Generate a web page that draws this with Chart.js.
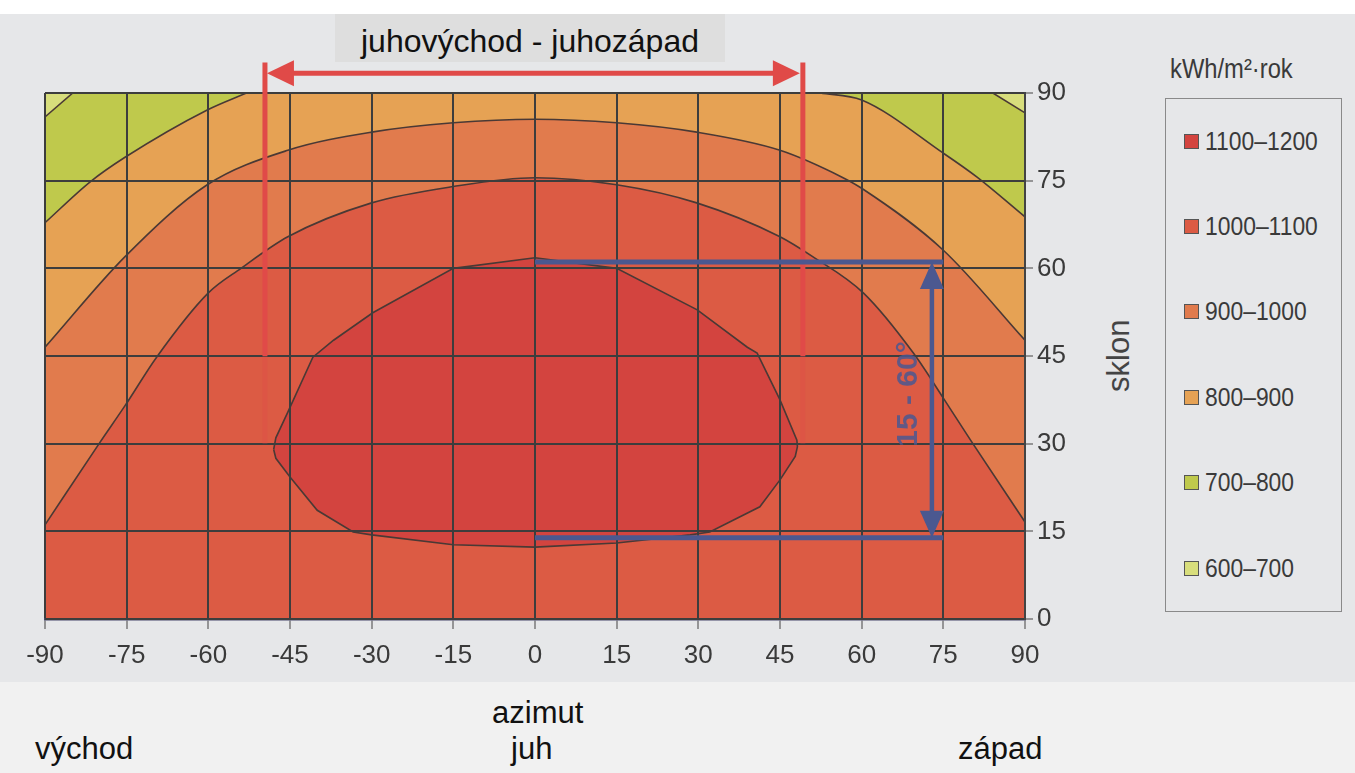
<!DOCTYPE html>
<html lang="sk">
<head>
<meta charset="UTF-8">
<title>Ročná energia podľa azimutu a sklonu</title>
<style>
  body { margin: 0; width: 1355px; height: 773px; position: relative; overflow: hidden; background: #fff;
         font-family: "Liberation Sans", Arial, sans-serif; }
  .scan { position: absolute; left: 0; top: 14px; width: 1355px; height: 668px; background: #e6e7e9; }
  .band { position: absolute; left: 0; top: 682px; width: 1355px; height: 91px; background: #f1f1f1; }
  .topbox { position: absolute; left: 335px; top: 14px; width: 390px; height: 48px; background: #dedede; }
  .txt { position: absolute; color: #111; white-space: nowrap; line-height: 1; }
  .narrow { font-family: "Liberation Sans Narrow", "Arial Narrow", "Liberation Sans", sans-serif; color: #3a3a3a; }
  .squeeze { display: inline-block; transform: scaleX(0.88); transform-origin: left center; }
  #legend { position: absolute; left: 1165px; top: 98px; width: 175px; height: 512px; border: 1px solid #8a8a8a; }
  .item { position: absolute; left: 18px; height: 30px; display: flex; align-items: center; font-size: 26px; }
  .sw { width: 13px; height: 13px; border: 1.5px solid #555; margin-right: 6px; }
  canvas { position: absolute; left: 0; top: 0; }
</style>
</head>
<body>
<div class="scan"></div>
<div class="band"></div>
<div class="topbox"></div>
<div class="txt" style="left:335px;width:390px;text-align:center;top:25px;font-size:32px;">juhovýchod - juhozápad</div>
<div class="txt narrow" style="left:1170px;top:56px;font-size:27px;"><span class="squeeze">kWh/m²·rok</span></div>
<div id="legend"></div>
<div class="txt" style="left:1103px;top:392px;font-size:31px;color:#444;transform:rotate(-90deg);transform-origin:left top;">sklon</div>
<div class="txt" style="left:492px;top:697px;font-size:31px;">azimut</div>
<div class="txt" style="left:35px;top:733px;font-size:31px;">východ</div>
<div class="txt" style="left:511px;top:733px;font-size:31px;">juh</div>
<div class="txt" style="left:958px;top:733px;font-size:31px;">západ</div>
<canvas id="graf" width="1355" height="773"></canvas>

<script src="https://cdn.jsdelivr.net/npm/chart.js@4.4.1/dist/chart.umd.min.js"></script>
<script>
  // legenda - kWh/m2 za rok
  const legendRanges = ['1100–1200', '1000–1100', '900–1000', '800–900', '700–800', '600–700'];
  const rangeColors = ['#d3443f', '#dc5b44', '#e17b4d', '#e6a254', '#bfc94c', '#d8de7c'];

  const azimutTicks = [-90, -75, -60, -45, -30, -15, 0, 15, 30, 45, 60, 75, 90];
  const sklonTicks = [0, 15, 30, 45, 60, 75, 90];

  // izolínie [azimut, sklon]
  const line900 = [[-90, 16.1], [-80, 30.1], [-75.3, 36.5], [-69.5, 44.8], [-60, 55.8], [-54, 60], [-45.4, 65.4],
    [-30, 71.2], [-15, 74], [0, 75.5], [15, 74.3], [29.7, 71.2], [45, 65.4], [51, 62], [60.3, 55.8],
    [69.5, 45.5], [75, 37.8], [80, 30.6], [90, 16.6]];
  const line800 = [[-90, 46.5], [-75.3, 62], [-60.2, 74.3], [-45.4, 80.2], [-30, 83.3], [-15, 84.9], [0, 85.5],
    [15, 84.9], [29.7, 83.3], [45, 80.2], [56.4, 75.6], [60, 73.7], [75, 63.1], [90, 47.7]];
  const line700L = [[-90, 67.8], [-81.7, 74.8], [-75.3, 79], [-60.2, 87.1], [-53, 90]];
  const line700R = [[52.4, 90], [60, 88.8], [75, 79.7], [81.2, 75.6], [90, 68.8]];
  const line600L = [[-90, 85.9], [-84.9, 90]];
  const line600R = [[84.1, 90], [90, 86.6]];
  const blobUpper = [[-48, 29], [-47.6, 31], [-45.4, 35.4], [-40.8, 44.8], [-37, 47.7], [-29.8, 52.4], [-15, 60],
    [0, 61.8], [15, 60], [29.8, 52.9], [39, 46.5], [40.8, 45.5], [45, 37.5], [48.1, 30.6], [48.2, 29.5]];
  const blobLower = [[-48, 29], [-47.6, 27.5], [-45, 24.3], [-40, 18.6], [-33.4, 14.9], [-30, 14.4], [-15, 12.7],
    [0, 12.3], [15, 13], [28.5, 14.4], [32.1, 14.9], [41.3, 19.2], [45, 23.8], [47.8, 27.8], [48.2, 29.5]];

  // vyznačenie
  const juhSpan = [-49.6, 49.2];     // juhovýchod - juhozápad
  const sklonSpan = [13.9, 61.1];    // 15 - 60°
  const bracketAz = [0, 75];
  const arrowAz = 72.9;

  const narrow = '"Liberation Sans Narrow", "Arial Narrow", "Liberation Sans", sans-serif';
  const lineCol = '#4a3935';

  // legenda do html
  const leg = document.getElementById('legend');
  legendRanges.forEach((r, i) => {
    const d = document.createElement('div');
    d.className = 'item narrow';
    d.style.top = (27 + i * 85.4) + 'px';
    d.innerHTML = '<span class="sw" style="background:' + rangeColors[i] + '"></span><span class="squeeze">' + r + '</span>';
    leg.appendChild(d);
  });

  const pts = arr => arr.map(p => ({x: p[0], y: p[1]}));

  function contour(arr, color, mode) {
    return {
      data: pts(arr), borderColor: lineCol, borderWidth: 1.6, pointRadius: 0,
      backgroundColor: color, fill: 'end', cubicInterpolationMode: mode || 'default', tension: mode ? 0.4 : 0
    };
  }

  const datasets = [
    {data: pts(blobUpper.concat(blobLower.slice().reverse())), borderColor: lineCol, borderWidth: 1.6,
      pointRadius: 0, fill: false},
    {data: pts(blobUpper), borderWidth: 0, pointRadius: 0, backgroundColor: rangeColors[0], fill: '+1'},
    {data: pts(blobLower), borderWidth: 0, pointRadius: 0, fill: false},
    contour(line600L, rangeColors[5]),
    contour(line600R, rangeColors[5]),
    contour(line700L, rangeColors[4], 'monotone'),
    contour(line700R, rangeColors[4], 'monotone'),
    contour(line800, rangeColors[3], 'monotone'),
    contour(line900, rangeColors[2], 'monotone')
  ];

  const areaBg = {
    id: 'areaBg',
    beforeDraw(chart) {
      const a = chart.chartArea, ctx = chart.ctx;
      ctx.save();
      ctx.fillStyle = rangeColors[1];
      ctx.fillRect(a.left, a.top, a.right - a.left, a.bottom - a.top);
      ctx.restore();
    }
  };

  function head(ctx, tx, ty, dx, dy, len, half) {
    ctx.beginPath();
    ctx.moveTo(tx, ty);
    ctx.lineTo(tx - dx * len - dy * half, ty - dy * len + dx * half);
    ctx.lineTo(tx - dx * len + dy * half, ty - dy * len - dx * half);
    ctx.closePath();
    ctx.fill();
  }

  const marks = {
    id: 'marks',
    afterDraw(chart) {
      const {ctx, scales: {x, y}} = chart;
      ctx.save();
      // cervena sipka juhovychod - juhozapad
      const red = '#e04a48';
      ctx.strokeStyle = red; ctx.fillStyle = red; ctx.lineWidth = 5;
      const xl = x.getPixelForValue(juhSpan[0]), xr = x.getPixelForValue(juhSpan[1]);
      const ya = y.getPixelForValue(93.4);
      juhSpan.forEach(v => {
        const px = x.getPixelForValue(v);
        ctx.globalAlpha = 1;
        ctx.beginPath(); ctx.moveTo(px, y.getPixelForValue(95.2)); ctx.lineTo(px, y.getPixelForValue(45)); ctx.stroke();
        ctx.globalAlpha = 0.3;
        ctx.beginPath(); ctx.moveTo(px, y.getPixelForValue(45)); ctx.lineTo(px, y.getPixelForValue(30)); ctx.stroke();
      });
      ctx.globalAlpha = 1;
      ctx.beginPath(); ctx.moveTo(xl + 20, ya); ctx.lineTo(xr - 20, ya); ctx.stroke();
      head(ctx, xl + 2, ya, -1, 0, 27, 13);
      head(ctx, xr - 3, ya, 1, 0, 27, 13);

      // modra zatvorka sklonu
      const blue = '#4b5890';
      ctx.strokeStyle = blue; ctx.fillStyle = blue; ctx.lineWidth = 5;
      const b0 = x.getPixelForValue(bracketAz[0]), b1 = x.getPixelForValue(bracketAz[1]);
      sklonSpan.forEach(v => {
        const py = y.getPixelForValue(v);
        ctx.beginPath(); ctx.moveTo(b0, py); ctx.lineTo(b1, py); ctx.stroke();
      });
      const ax = x.getPixelForValue(arrowAz);
      const yt = y.getPixelForValue(sklonSpan[1]), yb = y.getPixelForValue(sklonSpan[0]);
      ctx.lineWidth = 4.5;
      ctx.beginPath(); ctx.moveTo(ax, yt + 20); ctx.lineTo(ax, yb - 20); ctx.stroke();
      head(ctx, ax, yt, 0, -1, 27, 12);
      head(ctx, ax, yb, 0, 1, 27, 12);

      ctx.translate(x.getPixelForValue(68.6), y.getPixelForValue(38.5));
      ctx.rotate(-Math.PI / 2);
      ctx.globalAlpha = 0.85;
      ctx.font = 'bold 30px ' + narrow;
      ctx.textAlign = 'center'; ctx.textBaseline = 'middle';
      ctx.fillText('15 - 60°', 0, 0);
      ctx.restore();
    }
  };

  const tickFont = {family: narrow, size: 26};

  new Chart(document.getElementById('graf'), {
    type: 'line',
    data: {datasets: datasets},
    plugins: [areaBg, marks],
    options: {
      responsive: false,
      animation: false,
      layout: {padding: {left: 45, top: 93, right: 260, bottom: 94}},
      plugins: {legend: {display: false}, tooltip: {enabled: false}, filler: {drawTime: 'beforeDatasetsDraw'}},
      scales: {
        x: {
          type: 'linear', min: -90, max: 90,
          afterBuildTicks: s => { s.ticks = azimutTicks.map(v => ({value: v})); },
          afterFit: s => { s.height = 60; },
          ticks: {color: '#3a3a3a', font: tickFont, padding: 11, maxRotation: 0, autoSkip: false},
          grid: {color: '#3d3d3d', lineWidth: 2, z: 1, tickLength: 10, tickColor: '#7a7a7a', tickWidth: 1.5},
          border: {display: true, color: '#46466a', width: 2.5, z: 1}
        },
        y: {
          type: 'linear', position: 'right', min: 0, max: 90,
          afterBuildTicks: s => { s.ticks = sklonTicks.map(v => ({value: v})); },
          afterFit: s => { s.width = 70; },
          ticks: {color: '#3a3a3a', font: tickFont, padding: 4},
          grid: {color: '#3d3d3d', lineWidth: 2, z: 1, tickLength: 8, tickColor: '#7a7a7a', tickWidth: 1.5},
          border: {display: true, color: '#444', width: 2, z: 1}
        }
      }
    }
  });
</script>
</body>
</html>
